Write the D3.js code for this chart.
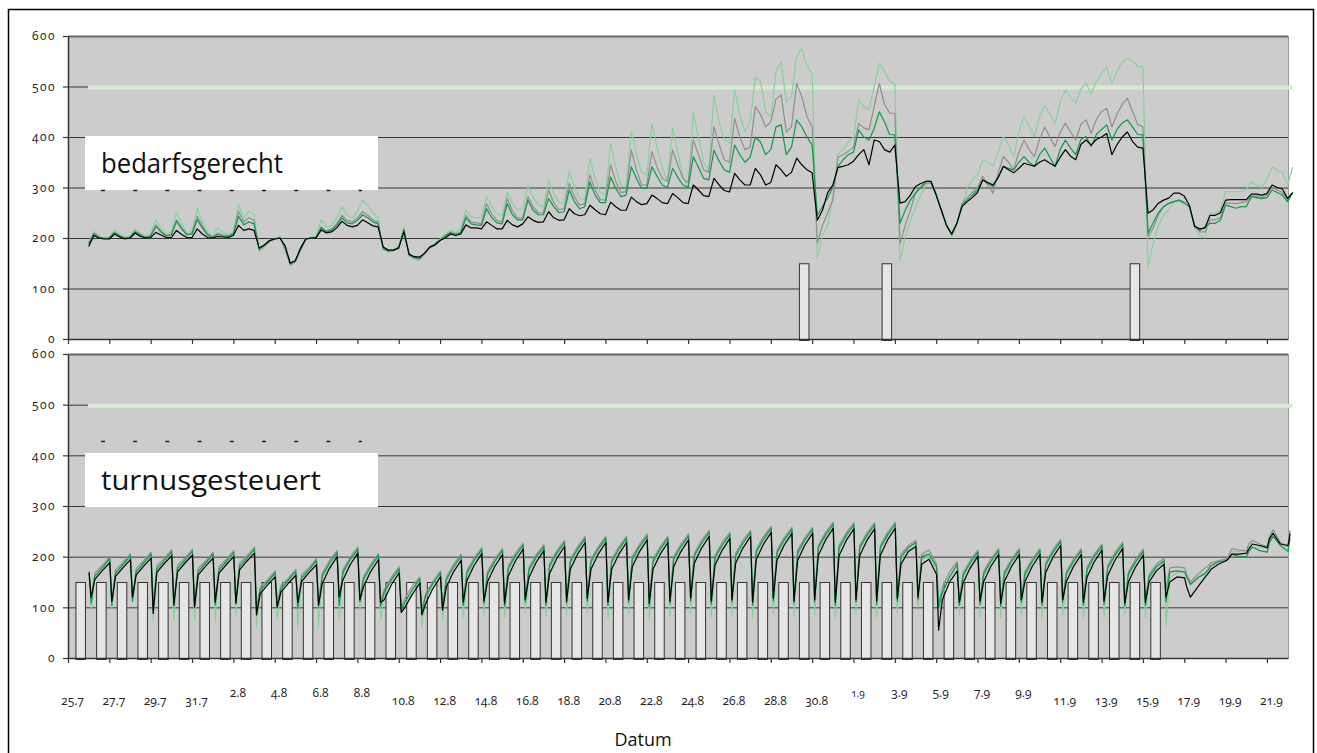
<!DOCTYPE html>
<html><head><meta charset="utf-8">
<script src="https://cdn.jsdelivr.net/npm/d3@7"></script>
<style>body{margin:0;background:#fff}svg{display:block}</style>
</head><body>
<svg id="c" width="1317" height="753"></svg>
<script>
// ---------- data ----------
const yTickValues = [0,100,200,300,400,500,600];
const xTickLabels = ["25.7","27.7","29.7","31.7","2.8","4.8","6.8","8.8","10.8","12.8","14.8","16.8","18.8","20.8","22.8","24.8","26.8","28.8","30.8","1.9","3.9","5.9","7.9","9.9","11.9","13.9","15.9","17.9","19.9","21.9"];
const xLabelRaised = ["2.8","4.8","6.8","8.8","1.9","3.9","5.9","7.9","9.9"];
const xLabelSmall = ["1.9"];
const limitValue = [500];
const barValue = 150;
const topBarDays = [35,39,51];
const bottomBarDays = [0,1,2,3,4,5,6,7,8,9,10,11,12,13,14,15,16,17,18,19,20,21,22,23,24,25,26,27,28,29,30,31,32,33,34,35,36,37,38,39,40,41,42,43,44,45,46,47,48,49,50,51,52];
const panelLabels = ["bedarfsgerecht","turnusgesteuert"];
const axisTitle = "Datum";

// top panel (bedarfsgerecht), 6-hourly from day 1
const topK = [
183,205,200,198, 198,208,202,198, 200,210,203,200, 201,211,206,201, 201,215,207,201,
201,218,208,201, 200,203,202,201, 205,225,215,218, 215,180,186,195, 198,200,185,150,
155,180,198,200, 200,216,210,212, 220,233,225,222, 225,236,230,224, 222,182,176,176,
180,212,168,163, 162,170,182,186, 195,200,208,205, 208,226,220,220, 218,232,225,218,
218,235,226,222, 228,242,235,231, 232,252,240,235, 236,258,248,244, 246,265,256,248,
246,271,262,255, 255,281,272,266, 268,285,278,270, 268,288,280,270, 268,305,295,284,
282,318,305,294, 291,328,315,305, 305,338,325,305, 310,345,335,322, 330,358,345,335,
329,235,255,290, 305,340,342,345, 352,365,375,345, 394,391,375,370, 384,269,272,285,
302,308,312,312, 285,255,225,208, 229,262,272,280, 290,315,310,305, 320,342,335,329,
338,348,345,342, 350,355,348,342, 360,375,362,355, 385,394,384,395, 400,407,365,385,
400,410,391,380, 378,249,256,269, 275,279,289,289, 283,265,223,218, 220,245,245,250,
275,276,276,276, 276,287,287,285, 288,305,300,297, 278,290];
const topG = [
190,210,202,200, 200,212,205,200, 202,214,207,202, 205,226,214,205, 208,236,220,207,
210,243,224,208, 202,210,206,204, 210,253,232,240, 235,176,184,193, 197,201,178,147,
153,176,196,200, 202,222,214,218, 228,245,235,232, 240,252,245,236, 232,178,174,175,
182,218,166,160, 158,168,180,186, 195,205,212,208, 212,245,232,230, 228,268,248,235,
232,278,254,240, 240,282,262,250, 250,295,270,256, 258,308,282,265, 268,325,295,276,
275,345,312,290, 292,374,335,305, 305,371,340,318, 312,374,345,318, 310,394,365,335,
330,420,385,355, 350,437,400,375, 380,460,445,420, 430,475,483,410, 420,506,480,440,
420,190,225,250, 275,360,365,372, 380,427,418,414, 460,506,465,447, 447,189,225,255,
290,300,308,308, 285,255,225,206, 229,268,280,290, 300,322,305,289, 330,361,350,335,
370,394,375,361, 395,420,400,381, 410,427,410,394, 425,434,407,435, 450,457,420,445,
465,477,450,425, 420,203,220,245, 262,268,272,275, 270,262,225,212, 212,236,236,240,
269,269,268,270, 272,283,283,280, 285,301,295,290, 278,290];
const topN = [
188,208,201,199, 200,210,204,200, 201,212,206,201, 204,223,212,204, 206,233,218,206,
208,236,220,206, 201,207,204,203, 208,243,226,232, 228,178,186,195, 198,201,182,150,
156,178,198,200, 201,220,212,215, 225,240,230,228, 235,246,240,232, 228,180,175,176,
182,216,167,162, 160,170,182,188, 196,204,210,207, 210,240,228,226, 225,258,240,230,
228,268,246,236, 236,275,255,246, 246,278,262,250, 252,295,272,258, 262,311,285,270,
270,321,298,282, 285,341,318,298, 298,341,322,305, 300,338,320,305, 300,361,340,318,
315,374,352,335, 330,384,365,350, 360,400,390,365, 375,420,424,365, 380,434,420,400,
384,245,262,280, 300,342,355,365, 370,414,400,394, 417,450,430,405, 404,229,255,275,
289,300,312,312, 285,255,225,207, 229,265,275,285, 295,315,308,302, 320,342,338,335,
350,361,350,342, 365,378,360,342, 375,394,378,365, 395,401,381,405, 415,424,394,415,
428,434,420,405, 404,210,230,250, 262,269,272,275, 270,262,225,215, 222,229,229,235,
265,262,259,262, 262,282,280,278, 280,295,290,285, 272,290];
const topL = [
192,213,205,200, 202,216,207,202, 204,218,210,204, 208,236,220,208, 212,251,228,210,
214,259,232,212, 204,220,212,206, 212,266,240,253, 248,172,182,192, 198,203,175,145,
152,175,198,202, 204,236,222,225, 240,262,245,240, 252,275,265,250, 240,176,172,174,
184,222,165,158, 156,168,182,190, 198,208,215,210, 218,255,242,240, 242,282,262,248,
245,291,268,255, 258,304,280,265, 262,315,288,270, 268,332,300,278, 275,358,318,290,
285,388,340,305, 301,411,365,330, 325,427,378,340, 315,417,370,320, 301,447,400,350,
335,483,430,395, 387,493,445,410, 430,519,510,450, 440,530,549,470, 480,560,575,540,
526,160,205,225, 280,365,375,390, 400,473,460,454, 500,546,530,510, 506,156,200,235,
260,285,305,312, 290,255,225,203, 225,262,300,315, 325,355,350,342, 370,401,385,361,
410,440,420,401, 440,463,445,427, 470,493,478,467, 495,506,486,510, 525,539,506,530,
548,556,550,540, 539,143,190,225, 245,256,272,272, 268,262,220,205, 200,249,249,255,
292,292,292,292, 295,311,305,300, 315,341,335,329, 305,341];

// bottom panel (turnusgesteuert): per day peak, dip, recovery, mid
const botK = [
168,120,155,172, 188,112,161,178, 194,120,164,181, 197,88,169,186, 202,105,170,187,
203,101,164,181, 197,110,167,184, 200,108,174,191, 207,85,127,144, 160,100,130,147,
163,110,151,168, 184,105,147,177, 200,121,154,184, 207,115,141,171, 194,110,115,145,
168,90,100,125, 148,85,107,137, 160,95,140,170, 193,110,153,183, 206,112,151,181,
204,108,162,192, 215,115,159,189, 212,110,167,197, 220,112,175,205, 228,118,175,205,
228,110,175,205, 228,115,180,210, 233,108,175,205, 228,112,180,210, 233,118,187,217,
240,112,183,213, 236,115,187,217, 240,110,195,225, 248,118,193,223, 246,112,193,223,
246,115,203,233, 256,110,202,232, 255,115,202,232, 255,112,203,233, 256,118,185,210,
220,120,185,195, 165,55,115,150, 172,110,148,178, 201,112,151,181, 204,108,151,181,
204,115,151,181, 204,110,169,199, 222,115,151,181, 204,110,160,190, 213,112,163,193,
216,108,150,180, 203,110,150,172, 185,120,150,160, 158,140,120,140, 160,165,175,185,
192,195,205,205, 207,215,225,222, 218,235,246,225, 222,245];
const botG = [
172,118,168,182, 200,112,174,188, 206,120,177,191, 209,105,182,196, 214,110,183,197,
215,108,177,191, 209,112,180,194, 212,115,187,201, 219,100,140,154, 172,110,143,157,
175,105,164,178, 196,108,167,192, 212,112,174,199, 219,118,161,186, 206,110,135,160,
180,100,118,142, 160,95,127,152, 172,100,160,185, 205,112,173,198, 218,115,171,196,
216,110,182,207, 227,118,179,204, 224,112,187,212, 232,115,195,220, 240,120,195,220,
240,112,195,220, 240,118,200,225, 245,110,195,220, 240,115,200,225, 245,120,207,232,
252,115,203,228, 248,118,207,232, 252,112,215,240, 260,120,213,238, 258,115,213,238,
258,118,223,248, 268,112,222,247, 267,118,222,247, 267,115,223,248, 268,120,205,222,
232,125,205,213, 185,110,140,170, 190,112,168,193, 213,115,171,196, 216,110,171,196,
216,118,171,196, 216,112,189,214, 234,118,171,196, 216,112,180,205, 225,115,183,208,
228,110,170,195, 215,112,165,185, 197,135,178,180, 178,165,150,165, 178,180,188,192,
195,200,216,213, 212,225,232,225, 220,240,253,228, 220,252];
const botN = [
170,108,162,178, 196,104,168,184, 202,112,171,187, 205,98,176,192, 210,102,177,193,
211,100,171,187, 205,104,174,190, 208,108,181,197, 215,92,134,150, 168,100,137,153,
171,98,158,174, 192,100,162,187, 208,104,169,194, 215,110,156,181, 202,102,130,155,
176,95,110,135, 156,90,122,147, 168,94,155,180, 201,104,168,193, 214,108,166,191,
212,102,177,202, 223,110,174,199, 220,104,182,207, 228,108,190,215, 236,112,190,215,
236,104,190,215, 236,110,195,220, 241,102,190,215, 236,108,195,220, 241,112,202,227,
248,106,198,223, 244,110,202,227, 248,104,210,235, 256,112,208,233, 254,108,208,233,
254,110,218,243, 264,104,217,242, 263,110,217,242, 263,106,218,243, 264,112,200,218,
228,115,200,205, 180,100,130,160, 185,104,163,188, 209,106,166,191, 212,102,166,191,
212,110,166,191, 212,104,184,209, 230,110,166,191, 212,104,175,200, 221,106,178,203,
224,102,165,190, 211,104,160,180, 192,110,170,172, 170,160,145,158, 167,172,182,190,
192,195,205,200, 200,210,219,212, 209,228,240,222, 210,236];
const botL = [
168,94,160,176, 194,96,166,182, 200,110,169,185, 203,75,174,190, 208,75,175,191,
209,75,169,185, 203,75,172,188, 206,85,179,195, 213,62,132,148, 166,75,135,151,
169,62,156,172, 190,62,157,184, 206,75,164,191, 213,94,151,178, 200,75,125,152,
174,100,105,132, 154,62,117,144, 166,75,150,177, 199,78,163,190, 212,85,161,188,
210,80,172,199, 221,88,169,196, 218,82,177,204, 226,85,185,212, 234,90,185,212,
234,78,185,212, 234,86,190,217, 239,75,185,212, 234,82,190,217, 239,88,197,224,
246,80,193,220, 242,85,197,224, 246,78,205,232, 254,88,203,230, 252,82,203,230,
252,85,213,240, 262,78,212,239, 261,86,212,239, 261,80,213,240, 262,88,195,215,
226,100,195,200, 175,90,125,160, 182,85,158,185, 207,80,161,188, 210,78,161,188,
210,86,161,188, 210,80,179,206, 228,84,161,188, 210,78,170,197, 219,80,173,200,
222,85,160,187, 209,80,155,178, 190,62,160,168, 170,160,148,160, 170,175,185,192,
195,198,210,210, 212,220,225,220, 215,235,250,226, 215,250];

// ---------- layout ----------
const svg = d3.select("#c");
const FONT = "'Open Sans', 'DejaVu Sans', sans-serif";
const x = d3.scaleLinear().domain([0, 59.02]).range([68, 1288]);
const yTop = d3.scaleLinear().domain([0, 600]).range([339, 36]);
const yBot = d3.scaleLinear().domain([0, 600]).range([658, 354]);

svg.append("rect").attr("x", 8.5).attr("y", 9.5).attr("width", 1305).attr("height", 800)
  .attr("fill", "#fff").attr("stroke", "#000").attr("stroke-width", 1.5);

const topTimes = topK.map((_, i) => 1 + i * 0.25);
const botOffsets = [0.02, 0.12, 0.3, 0.65];
const botTimes = botK.map((_, i) => 1 + Math.floor(i / 4) + botOffsets[i % 4]);

const colors = {L: "#86d39a", G: "#8f8f8f", N: "#0f9a48", K: "#000000"};

function panel(y, times, series, barDays, label, boxTop, dashY) {
  const g = svg.append("g");
  g.append("rect").attr("x", x(0)).attr("y", y(600)).attr("width", x(59.02) - x(0))
    .attr("height", y(0) - y(600)).attr("fill", "#cccccc");
  // grid
  g.selectAll(".grid").data(yTickValues.filter(v => v > 0 && v < 600)).join("line")
    .attr("x1", x(0)).attr("x2", x(59.02)).attr("y1", d => y(d) + 0.5).attr("y2", d => y(d) + 0.5)
    .attr("stroke", "#383838").attr("stroke-width", 1);
  g.append("line").attr("x1", x(0)).attr("x2", x(59.02)).attr("y1", y(600) + 0.5).attr("y2", y(600) + 0.5)
    .attr("stroke", "#666").attr("stroke-width", 2);
  g.append("line").attr("x1", x(59.02) + 0.5).attr("x2", x(59.02) + 0.5).attr("y1", y(600)).attr("y2", y(0))
    .attr("stroke", "#999").attr("stroke-width", 1);
  // limit line
  g.selectAll(".limit").data(limitValue).join("line")
    .attr("x1", x(0.97)).attr("x2", x(59.25)).attr("y1", d => y(d) + 1).attr("y2", d => y(d) + 1)
    .attr("stroke", "#d8ebd5").attr("stroke-width", 4);
  // bars
  g.selectAll(".bar").data(barDays).join("rect")
    .attr("x", d => x(d + 0.36) + 0.5).attr("width", d => x(d + 0.82) - x(d + 0.36))
    .attr("y", y(barValue) + 0.5).attr("height", y(0) - y(barValue) + 1)
    .attr("fill", "#e6e6e6").attr("stroke", "#333").attr("stroke-width", 1);
  // lines
  const line = d3.line().x(d => x(d[0])).y(d => y(d[1]));
  ["L", "G", "N", "K"].forEach(k => {
    const pts = series[k].map((v, i) => [times[i], v]);
    g.append("path").attr("d", line(pts)).attr("fill", "none")
      .attr("stroke", colors[k]).attr("stroke-width", 1.2).attr("stroke-linejoin", "round");
  });
  // axes
  const ax = g.append("g").attr("transform", `translate(${x(0)},0)`)
    .call(d3.axisLeft(y).tickValues(yTickValues).tickSize(5).tickSizeOuter(0).tickPadding(7));
  ax.select(".domain").attr("stroke", "#333").attr("stroke-width", 1.5);
  ax.selectAll(".tick line").attr("stroke", "#333").attr("stroke-width", 1.2);
  ax.selectAll(".tick text").attr("font-family", FONT).attr("font-size", 12)
    .attr("letter-spacing", "1.5px").attr("fill", "#222")
    .style("font-variant-numeric", "oldstyle-nums");
  const bx = g.append("g").attr("transform", `translate(0,${y(0)})`)
    .call(d3.axisBottom(x).tickValues(xTickLabels.map((_, i) => i * 2)).tickSize(5)
      .tickSizeOuter(0).tickFormat(""));
  bx.select(".domain").attr("stroke", "#333").attr("stroke-width", 1.5);
  bx.selectAll(".tick line").attr("stroke", "#333").attr("stroke-width", 1.2);
  // label box
  g.append("rect").attr("x", 85).attr("y", boxTop).attr("width", 293).attr("height", 54).attr("fill", "#fff");
  g.append("text").attr("x", 101).attr("y", boxTop + 37).text(label)
    .attr("font-family", FONT).attr("font-size", 28).attr("fill", "#111")
    .attr("textLength", label.length > 14 ? 220 : 182).attr("lengthAdjust", "spacingAndGlyphs");
  g.append("line").attr("x1", 101).attr("x2", 362).attr("y1", dashY).attr("y2", dashY)
    .attr("stroke", "#222").attr("stroke-width", 1.3).attr("stroke-dasharray", "4,28.2");
}

panel(yTop, topTimes, {K: topK, G: topG, N: topN, L: topL}, topBarDays, panelLabels[0], 136, 190.5);
panel(yBot, botTimes, {K: botK, G: botG, N: botN, L: botL}, bottomBarDays, panelLabels[1], 453, 441.5);

// x tick labels
svg.append("g").selectAll("text").data(xTickLabels).join("text")
  .attr("x", (d, i) => x(i * 2) + 4.5)
  .attr("y", d => xLabelRaised.includes(d) ? 697 : 705)
  .attr("text-anchor", "middle")
  .attr("font-family", FONT).attr("font-size", d => xLabelSmall.includes(d) ? 10 : 12)
  .attr("fill", "#222").style("font-variant-numeric", "oldstyle-nums")
  .text(d => d);

svg.append("text").attr("x", 643).attr("y", 746).attr("text-anchor", "middle")
  .attr("font-family", FONT).attr("font-size", 18).attr("fill", "#111").text(axisTitle);
</script>
</body></html>
